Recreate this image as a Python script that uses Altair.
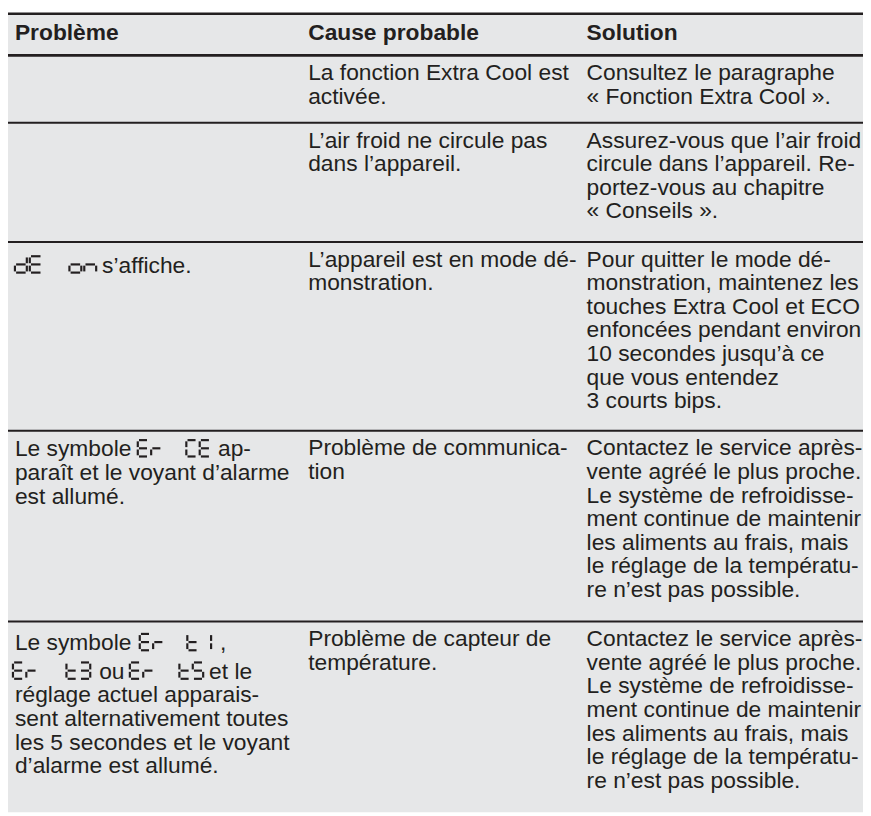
import altair as alt
import pandas as pd

# ---------------- content ----------------
HEADERS = ["Problème", "Cause probable", "Solution"]

# rich lines: lists of ("txt", text) / ("seg", 7-segment display text)
PROBLEMS = [
    [],
    [],
    [[("seg", "dE"), ("seg", "on"), ("txt", "s’affiche.")]],
    [[("txt", "Le symbole"), ("seg", "Er"), ("seg", "CE"), ("txt", "ap-")],
     "paraît et le voyant d’alarme",
     "est allumé."],
    [[("txt", "Le symbole"), ("seg", "Er"), ("seg", "t1"), ("txt", ",")],
     [("seg", "Er"), ("seg", "t3"), ("txt", "ou"), ("seg", "Er"), ("seg", "t5"), ("txt", "et le")],
     "réglage actuel apparais-",
     "sent alternativement toutes",
     "les 5 secondes et le voyant",
     "d’alarme est allumé."],
]

CAUSES = [
    ["La fonction Extra Cool est", "activée."],
    ["L’air froid ne circule pas", "dans l’appareil."],
    ["L’appareil est en mode dé-", "monstration."],
    ["Problème de communica-", "tion"],
    ["Problème de capteur de", "température."],
]

SERVICE = ["Contactez le service après-", "vente agréé le plus proche.",
           "Le système de refroidisse-", "ment continue de maintenir",
           "les aliments au frais, mais", "le réglage de la températu-",
           "re n’est pas possible."]

SOLUTIONS = [
    ["Consultez le paragraphe", "« Fonction Extra Cool »."],
    ["Assurez-vous que l’air froid", "circule dans l’appareil. Re-",
     "portez-vous au chapitre", "« Conseils »."],
    ["Pour quitter le mode dé-", "monstration, maintenez les",
     "touches Extra Cool et ECO", "enfoncées pendant environ",
     "10 secondes jusqu’à ce", "que vous entendez", "3 courts bips."],
    SERVICE,
    SERVICE,
]

# 7-segment character map
SEGMENTS = {"d": "bcdeg", "E": "adefg", "o": "cdeg", "n": "ceg", "r": "eg",
            "C": "adef", "t": "defg", "1": "bc", "3": "abcdg", "5": "acdfg"}

# ---------------- layout ----------------
W, H = 863, 808
COL_X = [7, 303, 584]
TOP = 2
HEAD_BASE = 27
HEAD_H = 42
PITCH = 23.8
FIRST = 25
ROW_PAD = [20.5, 25, 24, 26, 24]
FS = 23
INK = "#231f20"
GREY = "#e6e7e8"
INLINE_X = {(2, 0): [7, 62, 95],
            (3, 0): [7, 131, 180, 212],
            (4, 0): [7, 133, 181, 214],
            (4, 1): [5, 59, 92, 123, 173, 203]}
GLYPH_SIZE = {(2, 0): (12, 15)}          # (width, advance) overrides
LINE_EXTRA = {(2, 0): 6, (3, 0): 1, (4, 0): 4, (4, 1): 5}
GW, GADV, GH, GAP, GSW = 10.5, 13.5, 16.5, 1.2, 2.2

texts, heads, segs = [], [], []
rules = [dict(x=0, x2=W, y=TOP, w=2.6)]


def add_glyphs(s, x0, yb, gw, gadv):
    for k, ch in enumerate(s):
        L = x0 + k * gadv
        R = L + gw
        top, mid, bot = yb - GH, yb - GH / 2, yb
        geom = {
            "a": (L + GAP, top, R - GAP, top),
            "b": (R, top + GAP, R, mid - GAP),
            "c": (R, mid + GAP, R, bot - GAP),
            "d": (L + GAP, bot, R - GAP, bot),
            "e": (L, mid + GAP, L, bot - GAP),
            "f": (L, top + GAP, L, mid - GAP),
            "g": (L + GAP, mid, R - GAP, mid),
        }
        for sg in SEGMENTS.get(ch, ""):
            xa, ya, xb, yb2 = geom[sg]
            segs.append(dict(x=xa, x2=xb, y=ya, y2=yb2))


for c, h in enumerate(HEADERS):
    heads.append(dict(x=COL_X[c], y=TOP + HEAD_BASE, text=h))

y0 = TOP + HEAD_H
rules.append(dict(x=0, x2=W, y=y0, w=2.6))
for r in range(len(CAUSES)):
    cols = [PROBLEMS[r], CAUSES[r], SOLUTIONS[r]]
    n = max(len(cl) for cl in cols)
    for c, lines in enumerate(cols):
        extra = 0
        for i, line in enumerate(lines):
            if c == 0:
                extra += LINE_EXTRA.get((r, i), 0)
            yb = y0 + FIRST + i * PITCH + extra
            if isinstance(line, str):
                texts.append(dict(x=COL_X[c], y=yb, text=line))
            else:
                gw, gadv = GLYPH_SIZE.get((r, i), (GW, GADV))
                for (kind, s), xx in zip(line, INLINE_X[(r, i)]):
                    if kind == "txt":
                        texts.append(dict(x=xx, y=yb, text=s))
                    else:
                        add_glyphs(s, xx, yb, gw, gadv)
    y0 += n * PITCH + ROW_PAD[r]
    if r < len(CAUSES) - 1:
        rules.append(dict(x=0, x2=W, y=y0, w=2.0))

XS = alt.Scale(domain=[0, W], range=[0, W], nice=False, zero=False)
YS = alt.Scale(domain=[0, H], range=[0, H], nice=False, zero=False)

bg = alt.Chart(pd.DataFrame([dict(x=0, x2=W, y=TOP, y2=H)])).mark_rect(color=GREY).encode(
    x=alt.X("x:Q", scale=XS, axis=None), x2="x2:Q",
    y=alt.Y("y:Q", scale=YS, axis=None), y2="y2:Q")

rule_layer = alt.Chart(pd.DataFrame(rules)).mark_rule(color=INK).encode(
    x=alt.X("x:Q", scale=XS, axis=None), x2="x2:Q",
    y=alt.Y("y:Q", scale=YS, axis=None),
    strokeWidth=alt.StrokeWidth("w:Q", scale=None, legend=None))

body = alt.Chart(pd.DataFrame(texts)).mark_text(
    align="left", baseline="alphabetic", font="Liberation Sans", fontSize=FS, color=INK
).encode(x=alt.X("x:Q", scale=XS, axis=None), y=alt.Y("y:Q", scale=YS, axis=None), text="text:N")

head = alt.Chart(pd.DataFrame(heads)).mark_text(
    align="left", baseline="alphabetic", font="Liberation Sans", fontSize=FS,
    fontWeight="bold", color=INK
).encode(x=alt.X("x:Q", scale=XS, axis=None), y=alt.Y("y:Q", scale=YS, axis=None), text="text:N")

glyphs = alt.Chart(pd.DataFrame(segs)).mark_rule(color=INK, strokeWidth=GSW, strokeCap="butt").encode(
    x=alt.X("x:Q", scale=XS, axis=None), x2="x2:Q",
    y=alt.Y("y:Q", scale=YS, axis=None), y2="y2:Q")

chart = alt.layer(bg, rule_layer, body, head, glyphs).properties(
    width=W, height=H, padding=0, autosize="none", background="white"
).configure_view(stroke=None)

chart.save("out.html", embed_options={"renderer": "svg", "actions": False})
